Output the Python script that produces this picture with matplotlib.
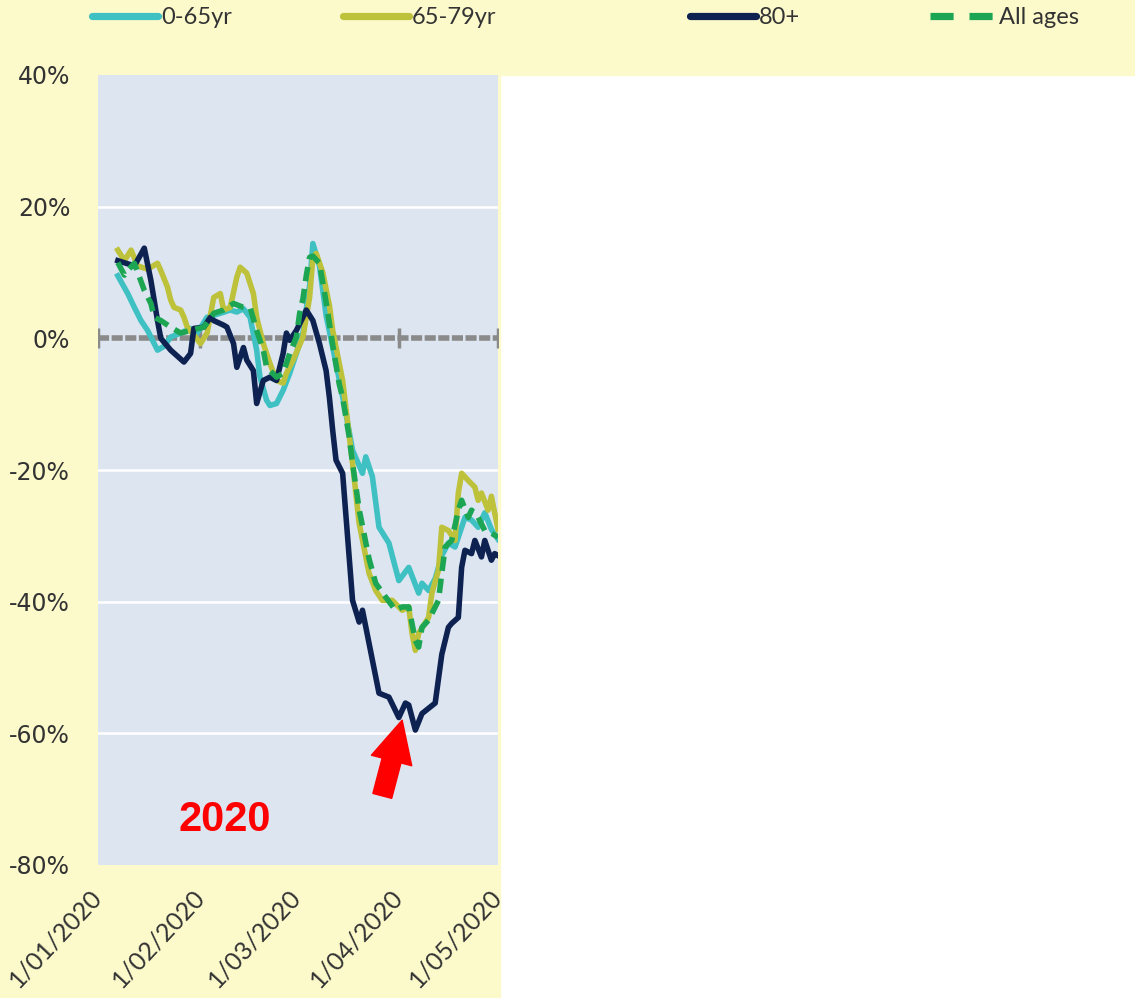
import pandas as pd
import matplotlib
matplotlib.use("Agg")
import matplotlib.pyplot as plt
from matplotlib.lines import Line2D
from matplotlib.patches import Rectangle
from matplotlib.ticker import FuncFormatter

# change vs. baseline (%), by age group, 2020
dates_0_65 = ["01-07", "01-10", "01-12", "01-14", "01-16", "01-19", "01-21", "01-23",
              "01-26", "01-29", "01-31", "02-03", "02-07", "02-10", "02-12", "02-14",
              "02-16", "02-18", "02-19", "02-21", "02-22", "02-24", "02-26", "02-28",
              "03-01", "03-03", "03-05", "03-06", "03-08", "03-10", "03-13", "03-16",
              "03-18", "03-21", "03-22", "03-24", "03-26", "03-29", "04-01", "04-04",
              "04-07", "04-08", "04-10", "04-12", "04-14", "04-16", "04-18", "04-21",
              "04-23", "04-25", "04-27", "04-29", "05-01"]
vals_0_65 = [9.5, 6.8, 4.7, 2.7, 1.2, -1.8, -1.2, 0.2,
             0.8, 1.5, 0.8, 3.2, 3.8, 4.3, 4.0, 4.5,
             3.2, -1.8, -5.9, -9.4, -10.2, -9.9, -7.9, -5.3,
             -2.3, 0.8, 8.0, 14.4, 11.0, 3.5, -3.8, -11.4,
             -17.0, -20.5, -18.0, -21.0, -28.7, -31.1, -36.8, -34.8,
             -38.7, -37.2, -38.3, -36.5, -33.0, -31.1, -31.7, -27.2,
             -27.6, -28.7, -26.5, -29.0, -30.5]

dates_65_79 = ["01-07", "01-09", "01-11", "01-13", "01-16", "01-19", "01-20", "01-22",
               "01-23", "01-24", "01-26", "01-27", "01-28", "01-30", "02-01", "02-03",
               "02-05", "02-07", "02-08", "02-10", "02-12", "02-13", "02-15", "02-17",
               "02-18", "02-20", "02-22", "02-24", "02-26", "02-27", "02-29", "03-02",
               "03-03", "03-05", "03-06", "03-07", "03-09", "03-11", "03-12", "03-15",
               "03-18", "03-20", "03-23", "03-25", "03-27", "03-30", "04-02", "04-04",
               "04-05", "04-06", "04-07", "04-10", "04-11", "04-13", "04-14", "04-16",
               "04-18", "04-19", "04-20", "04-22", "04-24", "04-25", "04-26", "04-28",
               "04-29", "05-01"]
vals_65_79 = [13.4, 11.8, 13.4, 11.0, 10.5, 11.4, 10.3, 7.8,
              5.8, 4.7, 4.3, 3.2, 1.7, 0.5, -0.8, 0.8,
              6.2, 6.8, 4.3, 4.7, 9.3, 10.8, 9.9, 6.8,
              3.2, -0.8, -3.8, -6.4, -6.8, -5.3, -3.3, -1.0,
              0.2, 6.2, 12.3, 12.9, 10.0, 5.0, 1.2, -6.4,
              -19.0, -28.1, -35.7, -38.3, -39.8, -39.8, -41.3, -40.8,
              -44.8, -47.4, -44.8, -42.4, -38.7, -35.2, -28.7, -29.2,
              -30.7, -23.5, -20.5, -21.6, -22.6, -24.6, -23.5, -26.1,
              -24.0, -29.0]

dates_80 = ["01-07", "01-12", "01-15", "01-17", "01-19", "01-20", "01-23", "01-27",
            "01-29", "01-30", "02-02", "02-04", "02-05", "02-08", "02-09", "02-11",
            "02-12", "02-14", "02-15", "02-17", "02-18", "02-20", "02-22", "02-24",
            "02-26", "02-27", "02-28", "03-01", "03-03", "03-04", "03-06", "03-08",
            "03-10", "03-11", "03-12", "03-13", "03-15", "03-18", "03-20", "03-21",
            "03-26", "03-29", "04-01", "04-03", "04-04", "04-06", "04-08", "04-12",
            "04-14", "04-16", "04-17", "04-19", "04-20", "04-21", "04-23", "04-24",
            "04-26", "04-27", "04-29", "04-30", "05-01"]
vals_80 = [11.8, 11.0, 13.7, 8.8, 2.7, 0.0, -1.8, -3.6,
           -2.3, 1.5, 1.7, 3.2, 2.7, 2.0, 1.7, -0.8,
           -4.4, -1.4, -3.3, -4.9, -9.9, -6.4, -5.9, -6.4,
           -2.3, 0.8, -0.3, 1.2, 3.2, 4.3, 2.7, -0.8,
           -4.9, -9.0, -14.0, -18.5, -20.5, -39.8, -43.1, -41.3,
           -53.9, -54.5, -57.6, -55.4, -55.7, -59.5, -57.0, -55.4,
           -48.0, -43.9, -43.3, -42.4, -34.8, -32.2, -32.7, -30.7,
           -33.2, -30.7, -33.7, -32.7, -33.0]

dates_all = ["01-07", "01-09", "01-10", "01-12", "01-15", "01-17", "01-18", "01-20",
             "01-23", "01-26", "01-29", "02-02", "02-05", "02-08", "02-11", "02-14",
             "02-16", "02-18", "02-20", "02-21", "02-24", "02-26", "02-28", "03-01",
             "03-02", "03-03", "03-04", "03-05", "03-06", "03-08", "03-10", "03-12",
             "03-14", "03-15", "03-17", "03-18", "03-20", "03-23", "03-25", "03-28",
             "03-31", "04-02", "04-04", "04-06", "04-07", "04-08", "04-10", "04-13",
             "04-14", "04-15", "04-17", "04-19", "04-20", "04-22", "04-23", "04-25",
             "04-27", "04-29", "05-01"]
vals_all = [11.5, 9.6, 10.3, 11.4, 7.3, 5.3, 3.2, 2.7,
            1.7, 0.8, 1.2, 1.7, 3.8, 4.3, 5.3, 4.7,
            4.7, 1.2, -1.8, -4.4, -5.9, -5.3, -2.3, 0.2,
            3.8, 6.0, 9.5, 12.3, 12.5, 11.4, 5.5, -1.0,
            -7.0, -9.0, -15.0, -19.0, -26.0, -33.5, -37.2, -39.3,
            -41.3, -40.8, -40.8, -45.9, -46.9, -43.9, -42.8, -39.8,
            -35.7, -31.7, -30.7, -26.1, -24.6, -27.2, -26.1, -27.2,
            -29.2, -29.6, -30.2]

month_ticks = ["2020-01-01", "2020-02-01", "2020-03-01", "2020-04-01", "2020-05-01"]
month_labels = ["1/01/2020", "1/02/2020", "1/03/2020", "1/04/2020", "1/05/2020"]
y_ticks = [40, 20, 0, -20, -40, -60, -80]

arrow_tail = ("2020-03-27", -69.5)
arrow_tip = ("2020-04-02", -58.0)
year_label = ("2020-02-08 10:00", -73.2)


def to_dates(mmdd):
    return pd.to_datetime(["2020-" + s for s in mmdd])


YELLOW = "#fcfacb"
PANEL = "#dce5f0"
series = [
    ("0-65yr", dates_0_65, vals_0_65, "#3fc1c3", "-"),
    ("65-79yr", dates_65_79, vals_65_79, "#bec23a", "-"),
    ("80+", dates_80, vals_80, "#0e2252", "-"),
    ("All ages", dates_all, vals_all, "#1ca653", "--"),
]

fig = plt.figure(figsize=(11.35, 9.98), dpi=100)
fig.patch.set_facecolor("white")
# pale yellow frame: top legend band and left chart column
fig.patches.append(Rectangle((0, 1 - 75 / 998), 1, 75 / 998, transform=fig.transFigure,
                             color=YELLOW, zorder=-10))
fig.patches.append(Rectangle((0, 0), 500 / 1135, 1, transform=fig.transFigure,
                             color=YELLOW, zorder=-10))

ax = fig.add_axes([98 / 1135, 133 / 998, 400 / 1135, 790 / 998])
ax.set_facecolor(PANEL)
for s in ax.spines.values():
    s.set_visible(False)

ticks = pd.to_datetime(month_ticks)
ax.axhline(0, color="#8a8a8a", lw=4.0, dashes=(2.0, 0.45), zorder=2)
ax.plot(ticks, [0] * len(ticks), ls="none", marker="|", ms=14, mew=2.5,
        color="#8a8a8a", zorder=2)

handles = []
for name, d, v, col, ls in series:
    kw = dict(dashes=(2.6, 1.4)) if ls == "--" else {}
    ax.plot(to_dates(d), v, color=col, lw=4.0, zorder=3, solid_joinstyle="round", **kw)
    hkw = dict(dashes=(3.2, 2.2)) if ls == "--" else dict(solid_capstyle="round")
    handles.append(Line2D([], [], color=col, lw=5.2, **hkw))

ax.set_xlim(ticks[0], ticks[-1])
ax.set_ylim(-80, 40)
ax.set_yticks(y_ticks)
ax.yaxis.set_major_formatter(FuncFormatter(lambda v, p: f"{v:.0f}%"))
ax.grid(axis="y", color="white", lw=1.8, zorder=1)
ax.set_axisbelow(True)
gls = ax.get_ygridlines()
gls[0].set_visible(False)
gls[-1].set_visible(False)
gls[2].set_visible(False)
ax.tick_params(axis="y", length=0, pad=20, labelsize=17, labelcolor="#333333")

ax.set_xticks(ticks)
ax.set_xticklabels(month_labels, rotation=47, ha="right", va="center",
                   rotation_mode="anchor", fontsize=18, family="Lato", color="#333333")
ax.tick_params(axis="x", length=0, pad=20)

ax.annotate("", xy=(pd.Timestamp(arrow_tip[0]), arrow_tip[1]),
            xytext=(pd.Timestamp(arrow_tail[0]), arrow_tail[1]),
            arrowprops=dict(arrowstyle="simple,head_length=1.5,head_width=1.5,tail_width=0.7",
                            color="#ff0000", shrinkA=0, shrinkB=0, mutation_scale=20),
            zorder=5)
ax.text(pd.Timestamp(year_label[0]), year_label[1], "2020", color="#ff0000",
        fontsize=30, fontweight="bold", family="Liberation Sans", ha="center", va="center")

# legend: one entry per slot across the top band
legend_x = [92, 343, 690, 930]
for h, (name, *_), x in zip(handles, series, legend_x):
    fig.legend(handles=[h], labels=[name], loc="center left",
               bbox_to_anchor=(x / 1135, 1 - 18 / 998), frameon=False,
               borderpad=0, borderaxespad=0, handlelength=2.8, handletextpad=0.12,
               prop=dict(family="Lato", size=17), labelcolor="#333333")

fig.savefig("out.png", dpi=100)
